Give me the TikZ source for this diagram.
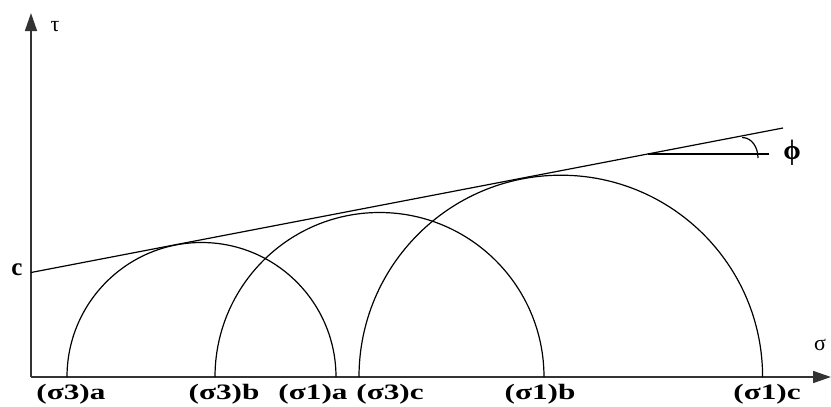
\documentclass[tikz,border=0pt]{standalone}
\usepackage{fontspec}
\setmainfont{Liberation Serif}
\usetikzlibrary{arrows.meta}
\begin{document}
\begin{tikzpicture}[x=1pt,y=-1pt,
  axis/.style={line width=1.6pt, draw=black!80, -{Triangle[length=18pt,width=12pt]}},
  curve/.style={line width=1.2pt, draw=black},
  lab/.style={font=\fontsize{22}{22}\selectfont\bfseries, inner sep=0pt, anchor=center},
  sym/.style={font=\fontsize{22}{22}\selectfont, inner sep=0pt, anchor=center}]
\useasboundingbox (0,0) rectangle (831,407);
\coordinate (O) at (31,377);
\coordinate (Ytop) at (31,13);
\coordinate (Xend) at (831,377);
\draw[axis] (O) -- (Ytop);
\draw[axis] (O) -- (Xend);
% Mohr circles
\draw[curve] (67,377) arc[start angle=180, end angle=360, radius=134.5];
\draw[curve] (215,377) arc[start angle=180, end angle=360, radius=164.5];
\draw[curve] (359,377) arc[start angle=180, end angle=360, radius=201.8];
% failure envelope
\coordinate (C) at (31,272.5);
\coordinate (E) at (783,128);
\draw[curve] (C) -- (E);
\coordinate (V) at (647.6,154);
\coordinate (H) at (769,154);
\draw[curve] (V) -- (H);
\coordinate (A1) at (742,137.5);
\coordinate (A2) at (758,158);
\draw[curve] (A1) to[out=0,in=90] (A2);
% labels
\node[sym] (tau) at (55,27) {τ};
\node[sym] (sig) at (820,345) {σ};
\node[sym, font=\fontsize{28}{28}\selectfont\bfseries] (phi) at (792,153) {ϕ};
\node[lab, font=\fontsize{25}{25}\selectfont\bfseries] (c) at (17,270) {c};
\node[lab] (s3a) at (71,394) {\scalebox{1.42}[1]{(σ3)a}};
\node[lab] (s3b) at (224,394) {\scalebox{1.42}[1]{(σ3)b}};
\node[lab] (s1a) at (313,394) {\scalebox{1.42}[1]{(σ1)a}};
\node[lab] (s3c) at (390,394) {\scalebox{1.42}[1]{(σ3)c}};
\node[lab] (s1b) at (540,394) {\scalebox{1.42}[1]{(σ1)b}};
\node[lab] (s1c) at (767,394) {\scalebox{1.42}[1]{(σ1)c}};
\end{tikzpicture}
\end{document}
